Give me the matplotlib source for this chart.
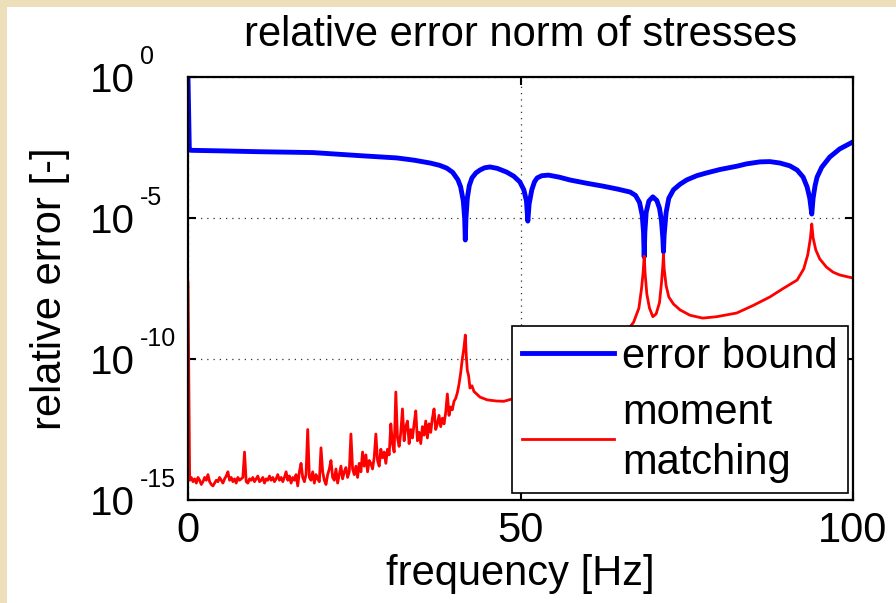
import numpy as np
import matplotlib
matplotlib.use("Agg")
import matplotlib.pyplot as plt
from matplotlib.patches import Rectangle
from matplotlib.ticker import NullLocator

plt.rcParams["font.family"] = ["Liberation Sans", "DejaVu Sans"]

# error bound: frequency [Hz] and log10 of the relative error
bound_f = [0.0, 0.2, 0.5, 5.0, 10.8, 18.8, 25.9, 31.4, 34.0, 36.4, 37.8, 38.9, 39.8,
           40.6, 41.0, 41.4, 41.6, 41.7, 41.8, 42.0, 42.3, 42.7, 43.3, 43.9, 44.6,
           45.4, 46.5, 47.9, 49.0, 49.9, 50.5, 50.9, 51.1, 51.3, 51.7, 52.1, 52.5,
           53.2, 54.2, 55.8, 57.4, 60.0, 62.4, 64.5, 66.5, 67.3, 67.9, 68.3, 68.5,
           68.6, 68.7, 68.9, 69.3, 69.9, 70.5, 70.9, 71.2, 71.4, 71.5, 71.6, 71.9,
           72.3, 73.0, 74.0, 75.0, 76.5, 78.0, 80.0, 82.6, 84.0, 86.0, 87.5, 89.0,
           90.5, 91.6, 92.5, 93.1, 93.5, 93.8, 94.0, 94.3, 94.6, 95.3, 96.5, 98.0,
           100.0]
bound_log = [0.0, -2.59, -2.60, -2.62, -2.65, -2.68, -2.79, -2.87, -2.95, -3.05, -3.13,
             -3.23, -3.38, -3.65, -3.9, -4.4, -5.0, -5.78, -5.0, -4.3, -3.85, -3.58,
             -3.40, -3.30, -3.22, -3.19, -3.24, -3.37, -3.52, -3.72, -4.0, -4.4, -5.11,
             -4.5, -4.0, -3.72, -3.58, -3.50, -3.48, -3.55, -3.65, -3.77, -3.87, -3.97,
             -4.08, -4.2, -4.45, -4.9, -5.5, -6.38, -5.5, -4.8, -4.4, -4.25, -4.38,
             -4.65, -5.1, -5.7, -6.2, -5.6, -4.8, -4.3, -4.0, -3.8, -3.65, -3.5, -3.4,
             -3.28, -3.16, -3.08, -3.01, -3.0, -3.05, -3.15, -3.3, -3.55, -3.9, -4.3,
             -4.86, -4.3, -3.85, -3.55, -3.2, -2.84, -2.55, -2.30]

# moment matching: numerical noise floor, 0.25 Hz steps from 0.25 to 41 Hz
mm_floor = [
    -14.3, -14.2, -14.35, -14.25, -14.4, -14.2, -14.3, -14.45,
    -14.35, -14.2, -14.3, -14.1, -14.35, -14.45, -14.5, -14.4,
    -14.3, -14.35, -14.2, -14.3, -14.4, -14.25, -14.15, -14.0,
    -14.3, -14.2, -14.35, -14.25, -14.4, -14.2, -14.3, -14.25,
    -14.2, -13.3, -14.35, -14.4, -14.25, -14.3, -14.2, -14.35,
    -14.25, -14.15, -14.35, -14.3, -14.2, -14.4, -14.25, -14.3,
    -14.15, -14.3, -14.2, -14.35, -14.25, -14.1, -14.3, -14.2,
    -14.35, -14.2, -14.0, -14.3, -14.15, -14.4, -14.2, -14.3,
    -14.1, -14.5, -14.0, -13.7, -14.2, -14.35, -14.1, -12.5,
    -14.2, -14.3, -14.0, -14.4, -14.1, -14.25, -14.35, -13.15,
    -14.0, -14.3, -14.45, -14.1, -13.9, -13.6, -14.2, -14.3,
    -13.9, -14.4, -14.1, -13.8, -14.25, -14.0, -13.85, -14.2,
    -14.0, -12.66, -13.9, -14.1, -13.8, -14.2, -13.7, -14.0,
    -13.3, -13.8, -13.4, -14.0, -13.6, -13.7, -13.9, -13.5,
    -12.66, -13.6, -13.8, -13.2, -13.5, -13.3, -13.7, -13.2,
    -13.4, -12.3, -13.0, -13.3, -11.17, -12.8, -13.1, -12.6,
    -11.77, -12.9, -12.4, -12.2, -13.0, -12.5, -12.8, -12.3,
    -11.84, -12.9, -12.6, -13.0, -12.4, -12.7, -12.2, -12.8,
    -12.3, -12.6, -12.1, -11.77, -12.5, -12.3, -12.0, -12.4,
    -12.1, -12.3, -11.9, -11.24, -12.0, -11.7, -11.8, -11.5,
    -11.4, -11.2, -10.9, -10.5]
floor_f = [0.25 * (i + 1) for i in range(len(mm_floor))]

# resonance part of the moment matching curve
peak_f = [41.25, 41.5, 41.7, 41.85, 42.0, 42.2, 42.4, 42.7, 43.0, 43.9, 45.0, 46.4,
          47.5, 48.7, 49.5, 52.0, 55.0, 58.0, 61.0, 64.0, 66.0, 67.0, 67.8, 68.2,
          68.45, 68.6, 68.75, 69.0, 69.4, 69.9, 70.4, 70.9, 71.2, 71.4, 71.5, 71.6,
          71.9, 72.3, 73.0, 74.0, 75.5, 77.4, 79.5, 82.5, 85.0, 87.5, 89.5, 91.6,
          92.6, 93.2, 93.6, 93.8, 94.0, 94.4, 95.0, 96.0, 97.0, 98.0, 100.0]
peak_log = [-10.0, -9.6, -9.15, -9.9, -10.4, -10.6, -11.03, -10.95, -11.15, -11.35,
            -11.45, -11.49, -11.5, -11.42, -11.35, -11.2, -10.9, -10.5, -10.0, -9.4,
            -9.0, -8.7, -8.2, -7.5, -6.9, -6.35, -7.0, -7.7, -8.2, -8.5, -8.4, -8.0,
            -7.3, -6.7, -6.3, -6.8, -7.4, -7.8, -8.05, -8.26, -8.45, -8.55, -8.5,
            -8.37, -8.1, -7.8, -7.5, -7.2, -6.8, -6.3, -5.7, -5.21, -5.7, -6.13,
            -6.45, -6.74, -6.92, -7.02, -7.13]

mm_f = [0.0] + floor_f + peak_f
mm_log = [-7.3] + mm_floor + peak_log

xticks = [0, 50, 100]
ytick_exp = [0, -5, -10, -15]

fig = plt.figure(figsize=(8.96, 6.03), dpi=100, facecolor="#eedfbb")
# white sheet, parchment showing only along the top and left edges
fig.patches.append(Rectangle((7 / 896, 0), 1, 1 - 7 / 603, transform=fig.transFigure,
                             facecolor="white", edgecolor="none", zorder=-1))
ax = fig.add_axes([188 / 896, 1 - 500 / 603, 665 / 896, 423 / 603])

ax.semilogy(bound_f, 10.0 ** np.array(bound_log), color="#0000ff", lw=3.5,
            label="error bound")
ax.semilogy(mm_f, 10.0 ** np.array(mm_log), color="#ff0000", lw=2.0,
            label="moment\nmatching")

ax.set_xlim(0, 100)
ax.set_ylim(1e-15, 1e0)
ax.set_xticks(xticks)
ax.set_yticks([10.0 ** e for e in ytick_exp])
ax.yaxis.set_minor_locator(NullLocator())
ax.grid(True, which="major", linestyle=(0, (1, 4)), color="#333333", lw=0.9)

ax.tick_params(direction="in", length=6, width=1.5, top=True, right=True,
               labelsize=30, pad=8)
ax.tick_params(axis="y", labelleft=False)
for s in ax.spines.values():
    s.set_linewidth(1.6)

# decade labels: "10" with a raised exponent, hyphen for the sign
ytrans = ax.get_yaxis_transform()
for e in ytick_exp:
    ax.text(-0.1474, 10.0 ** (e - 0.53), "10", transform=ytrans, fontsize=29,
            ha="left", va="baseline")
    ax.text(-0.0722, 10.0 ** (e + 0.46), str(e), transform=ytrans, fontsize=18,
            ha="left", va="baseline")

ax.set_title("relative error norm of stresses", fontsize=30, pad=22)
ax.set_xlabel("frequency [Hz]", fontsize=30, labelpad=2)
ax.set_ylabel("relative error [-]", fontsize=30)
ax.yaxis.set_label_coords(-0.178, 0.5)

leg = ax.legend(loc="lower right", bbox_to_anchor=(0.9925, 0.0165), borderaxespad=0,
                fontsize=30, fancybox=False, framealpha=1, edgecolor="black",
                handlelength=2.2, handletextpad=0.2, borderpad=0.25,
                labelspacing=0.4)
leg.get_frame().set_linewidth(1.2)
for t in leg.get_texts():
    t.set_linespacing(1.3)

fig.savefig("out.png", dpi=100, facecolor=fig.get_facecolor())
